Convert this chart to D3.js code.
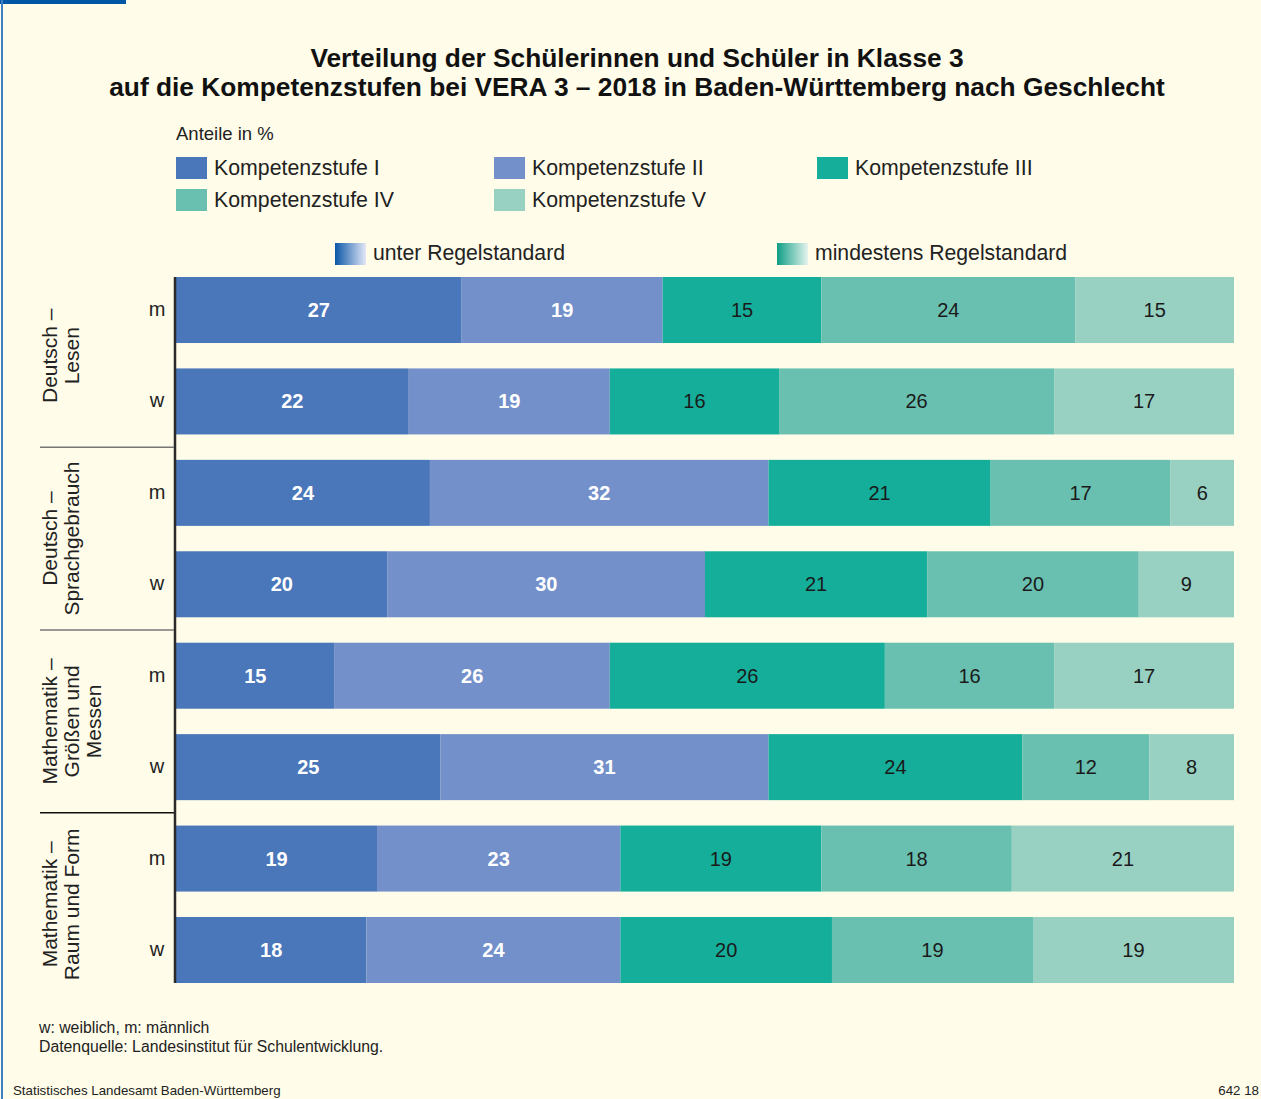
<!DOCTYPE html>
<html>
<head>
<meta charset="utf-8">
<script src="https://cdn.jsdelivr.net/npm/d3@7"></script>
<style>
  html, body { margin: 0; padding: 0; background: #fffce9; }
  svg { display: block; font-family: "Liberation Sans", Arial, sans-serif; }
</style>
</head>
<body>
<svg id="chart" width="1261" height="1099"></svg>
<script>
// data
const groups = ["Deutsch – Lesen", "Deutsch – Sprachgebrauch", "Mathematik – Größen und Messen", "Mathematik – Raum und Form"];
const groupLines = [["Deutsch –", "Lesen"], ["Deutsch –", "Sprachgebrauch"], ["Mathematik –", "Größen und", "Messen"], ["Mathematik –", "Raum und Form"]];
const sexes = ["m", "w"];
const levels = ["Kompetenzstufe I", "Kompetenzstufe II", "Kompetenzstufe III", "Kompetenzstufe IV", "Kompetenzstufe V"];
const stufe1 = [27, 22, 24, 20, 15, 25, 19, 18];
const stufe2 = [19, 19, 32, 30, 26, 31, 23, 24];
const stufe3 = [15, 16, 21, 21, 26, 24, 19, 20];
const stufe4 = [24, 26, 17, 20, 16, 12, 18, 19];
const stufe5 = [15, 17, 6, 9, 17, 8, 21, 19];

const colors = ["#4a76ba", "#7490ca", "#15ae9a", "#69c0b0", "#98d0c2"];
const textColors = ["#fff", "#fff", "#1a1a1a", "#1a1a1a", "#1a1a1a"];
const textWeights = ["bold", "bold", "normal", "normal", "normal"];

const svg = d3.select("#chart");

// frame bits
svg.append("rect").attr("x", 0).attr("y", 0).attr("width", 126).attr("height", 4).attr("fill", "#0055a4");
svg.append("rect").attr("x", 1).attr("y", 0).attr("width", 2).attr("height", 1099).attr("fill", "#3d7fc4");

// title
svg.append("text").attr("x", 637).attr("y", 67).attr("text-anchor", "middle")
  .attr("font-size", "26.3px").attr("font-weight", "bold").attr("fill", "#111")
  .text("Verteilung der Schülerinnen und Schüler in Klasse 3");
svg.append("text").attr("x", 637).attr("y", 96).attr("text-anchor", "middle")
  .attr("font-size", "26.3px").attr("font-weight", "bold").attr("fill", "#111")
  .text("auf die Kompetenzstufen bei VERA 3 – 2018 in Baden-Württemberg nach Geschlecht");

svg.append("text").attr("x", 176).attr("y", 140).attr("font-size", "18.5px").attr("fill", "#222")
  .text("Anteile in %");

// legend
const legX = [176, 494, 817, 176, 494];
const legY = [157, 157, 157, 189, 189];
levels.forEach(function(name, i) {
  svg.append("rect").attr("x", legX[i]).attr("y", legY[i]).attr("width", 31).attr("height", 22).attr("fill", colors[i]);
  svg.append("text").attr("x", legX[i] + 38).attr("y", legY[i] + 18).attr("font-size", "21.3px").attr("fill", "#222").text(name);
});

// gradient legend
const defs = svg.append("defs");
const g1 = defs.append("linearGradient").attr("id", "gradBlue");
g1.append("stop").attr("offset", "0%").attr("stop-color", "#0a56a8");
g1.append("stop").attr("offset", "100%").attr("stop-color", "#e4e8f6");
const g2 = defs.append("linearGradient").attr("id", "gradGreen");
g2.append("stop").attr("offset", "0%").attr("stop-color", "#0f9e86");
g2.append("stop").attr("offset", "100%").attr("stop-color", "#e6f4ee");

svg.append("rect").attr("x", 335).attr("y", 243).attr("width", 31).attr("height", 22).attr("fill", "url(#gradBlue)");
svg.append("text").attr("x", 373).attr("y", 260).attr("font-size", "21.2px").attr("fill", "#222").text("unter Regelstandard");
svg.append("rect").attr("x", 777).attr("y", 243).attr("width", 31).attr("height", 22).attr("fill", "url(#gradGreen)");
svg.append("text").attr("x", 815).attr("y", 260).attr("font-size", "21.2px").attr("fill", "#222").text("mindestens Regelstandard");

// rows
const rows = [];
groups.forEach(function(g, gi) {
  sexes.forEach(function(s, si) {
    const k = gi * 2 + si;
    rows.push({ id: k, group: gi, sex: s, values: [stufe1[k], stufe2[k], stufe3[k], stufe4[k], stufe5[k]] });
  });
});

const x = d3.scaleLinear().domain([0, 100]).range([176, 1234]);
const y = d3.scaleBand().domain(rows.map(d => d.id)).range([277, 983]).paddingInner(0.278).paddingOuter(0);

const rowG = svg.selectAll("g.row").data(rows).enter().append("g").attr("class", "row");

rowG.each(function(r) {
  const g = d3.select(this);
  let acc = 0;
  const segs = r.values.map(function(v, i) {
    const s = { x0: acc, x1: acc + v, v: v, i: i };
    acc += v;
    return s;
  });
  g.selectAll("rect").data(segs).enter().append("rect")
    .attr("x", d => x(d.x0))
    .attr("y", y(r.id))
    .attr("width", d => x(d.x1) - x(d.x0))
    .attr("height", y.bandwidth())
    .attr("fill", d => colors[d.i]);
  g.selectAll("text.val").data(segs).enter().append("text")
    .attr("class", "val")
    .attr("x", d => (x(d.x0) + x(d.x1)) / 2)
    .attr("y", y(r.id) + y.bandwidth() / 2 + 7)
    .attr("text-anchor", "middle")
    .attr("font-size", "20px")
    .attr("font-weight", d => textWeights[d.i])
    .attr("fill", d => textColors[d.i])
    .text(d => d.v);
  g.append("text")
    .attr("x", 157).attr("y", y(r.id) + y.bandwidth() / 2 + 6)
    .attr("text-anchor", "middle").attr("font-size", "20px").attr("fill", "#222")
    .text(r.sex);
});

// axis line
svg.append("line").attr("x1", 175).attr("x2", 175).attr("y1", 277).attr("y2", 983)
  .attr("stroke", "#2a2a2a").attr("stroke-width", 2.5);

// group separators and labels
const step = y.step();
const sepColors = ["#777", "#777", "#111"];
for (let gi = 0; gi < groups.length; gi++) {
  const top = y(gi * 2);
  const bottom = y(gi * 2 + 1) + y.bandwidth();
  const mid = (top + bottom) / 2;
  if (gi > 0) {
    const sy = top - (step - y.bandwidth()) / 2;
    svg.append("line").attr("x1", 40).attr("x2", 174).attr("y1", sy).attr("y2", sy)
      .attr("stroke", sepColors[gi - 1]).attr("stroke-width", 1.5);
  }
  const lines = groupLines[gi];
  const lab = svg.append("text")
    .attr("transform", "translate(" + 50 + "," + mid + ") rotate(-90)")
    .attr("text-anchor", "middle").attr("font-size", "21px").attr("fill", "#222");
  lines.forEach(function(l, li) {
    lab.append("tspan").attr("x", 0)
      .attr("y", li * 22 + 7)
      .text(l);
  });
}

// footnotes
svg.append("text").attr("x", 39).attr("y", 1033).attr("font-size", "15.8px").attr("fill", "#222").text("w: weiblich, m: männlich");
svg.append("text").attr("x", 39).attr("y", 1052).attr("font-size", "15.8px").attr("fill", "#222").text("Datenquelle: Landesinstitut für Schulentwicklung.");
svg.append("text").attr("x", 13).attr("y", 1095).attr("font-size", "13.3px").attr("fill", "#222").text("Statistisches Landesamt Baden-Württemberg");
svg.append("text").attr("x", 1259).attr("y", 1095).attr("text-anchor", "end").attr("font-size", "13.3px").attr("fill", "#222").text("642 18");
</script>
</body>
</html>
